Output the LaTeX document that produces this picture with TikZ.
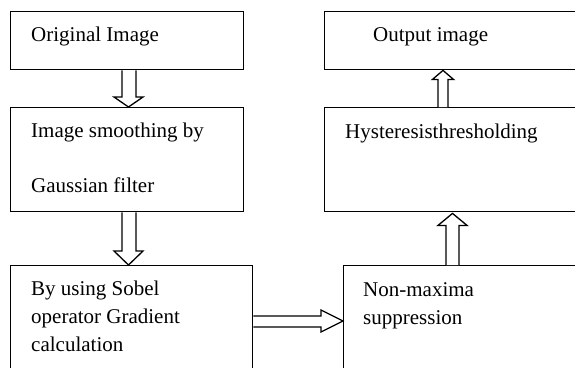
\documentclass[tikz,border=0pt]{standalone}
\usepackage{fontspec}
\setmainfont{Liberation Serif}
\usetikzlibrary{calc}
\tikzset{
  box/.style={draw, line width=1.4pt, rectangle, inner sep=0pt, anchor=north west},
  blk/.style={draw, line width=1.3pt, line join=miter, fill=white},
  lbl/.style={anchor=base west, inner sep=0pt, font=\fontsize{21}{25}\selectfont}
}
\begin{document}
\begin{tikzpicture}[x=1pt,y=-1pt]
\clip (0,0) rectangle (575,367);
\fill[white] (0,0) rectangle (575,367);
% boxes
\node[box, minimum width=233pt, minimum height=58pt] (b1) at (10,11) {};
\node[box, minimum width=233pt, minimum height=104pt] (b2) at (10,107) {};
\node[box, minimum width=242pt, minimum height=140pt] (b3) at (10,265) {};
\node[box, minimum width=280pt, minimum height=140pt] (b4) at (343,265) {};
\node[box, minimum width=300pt, minimum height=104pt] (b5) at (324,107) {};
\node[box, minimum width=300pt, minimum height=58pt] (b6) at (324,11) {};
% texts
\node[lbl] (t1) at (31,41) {Original Image};
\node[lbl] (t2a) at (31,137) {Image smoothing by};
\node[lbl] (t2b) at (31,192) {Gaussian filter};
\node[lbl] (t3a) at (31,295) {By using Sobel};
\node[lbl] (t3b) at (31,323) {operator Gradient};
\node[lbl] (t3c) at (31,351) {calculation};
\node[lbl] (t4a) at (363,296) {Non-maxima};
\node[lbl] (t4b) at (363,324) {suppression};
\node[lbl] (t5) at (345,138) {Hysteresisthresholding};
\node[lbl] (t6) at (373,41) {Output image};
% arrow positions
\coordinate (xa) at (128.5,0);
\coordinate (xd) at (452.5,0);
\coordinate (xe) at (443,0);
% arrow 1 (down)
\draw[blk] ($(b1.south -| xa)+(-6.5,0)$) -- ($(b2.north -| xa)+(-6.5,-10)$) -- ($(b2.north -| xa)+(-14.5,-10)$)
  -- (b2.north -| xa) -- ($(b2.north -| xa)+(14.5,-10)$) -- ($(b2.north -| xa)+(7.5,-10)$) -- ($(b1.south -| xa)+(7.5,0)$);
% arrow 2 (down)
\draw[blk] ($(b2.south -| xa)+(-6.5,0)$) -- ($(b3.north -| xa)+(-6.5,-14)$) -- ($(b3.north -| xa)+(-14.5,-14)$)
  -- (b3.north -| xa) -- ($(b3.north -| xa)+(14.5,-14)$) -- ($(b3.north -| xa)+(7.5,-14)$) -- ($(b2.south -| xa)+(7.5,0)$);
% arrow 3 (right)
\draw[blk] ($(b3.north east)+(0,51)$) -- ($(b4.north west)+(-22,51)$) -- ($(b4.north west)+(-22,45)$)
  -- ($(b4.north west)+(0,56)$) -- ($(b4.north west)+(-22,67)$) -- ($(b4.north west)+(-22,62)$) -- ($(b3.north east)+(0,62)$);
% arrow 4 (up)
\draw[blk] ($(b4.north -| xd)+(-6.5,0)$) -- ($(b5.south -| xd)+(-6.5,13)$) -- ($(b5.south -| xd)+(-14.5,13)$)
  -- ($(b5.south -| xd)+(0,1)$) -- ($(b5.south -| xd)+(14.5,13)$) -- ($(b5.south -| xd)+(6.5,13)$) -- ($(b4.north -| xd)+(6.5,0)$);
% arrow 5 (up)
\draw[blk] ($(b5.north -| xe)+(-5,0)$) -- ($(b6.south -| xe)+(-5,9)$) -- ($(b6.south -| xe)+(-10.5,9)$)
  -- (b6.south -| xe) -- ($(b6.south -| xe)+(10.5,9)$) -- ($(b6.south -| xe)+(5,9)$) -- ($(b5.north -| xe)+(5,0)$);
\end{tikzpicture}
\end{document}
